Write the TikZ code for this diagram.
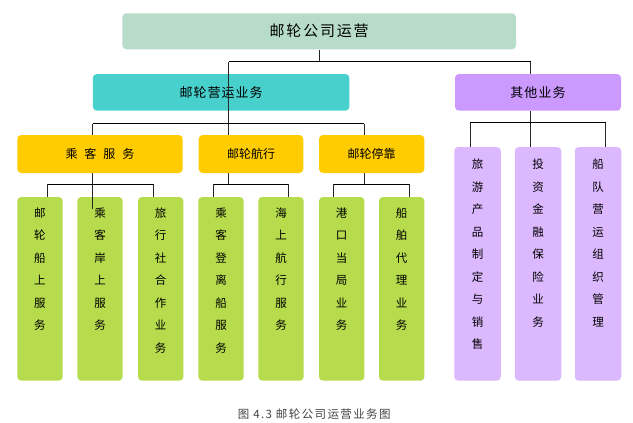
\documentclass[tikz,border=0pt]{standalone}
\usepackage{fontspec}
\newfontfamily\cjk{Noto Sans CJK SC}
\newfontfamily\cjkT[LetterSpace=12]{Noto Sans CJK SC}
\newfontfamily\cjkM[LetterSpace=8]{Noto Sans CJK SC}
\newfontfamily\cjkC[LetterSpace=12]{Noto Sans CJK SC}
\definecolor{topc}{HTML}{B7DCC9}
\definecolor{turq}{HTML}{48D1CC}
\definecolor{yel}{HTML}{FFCC00}
\definecolor{grn}{HTML}{B6DB4C}
\definecolor{pur}{HTML}{CC99FF}
\definecolor{lpur}{HTML}{DCB8FE}
\definecolor{capc}{HTML}{444444}
\tikzset{
  box/.style={rectangle, rounded corners=4pt, inner sep=0pt, minimum height=36pt},
  leafbox/.style={rectangle, rounded corners=4pt, inner sep=0pt, minimum width=45.4pt},
  leaftext/.style={inner sep=0pt, anchor=north, align=center, font=\cjk\fontsize{11.5}{22.5}\selectfont},
  hline/.style={line width=1.4pt, black},
  vline/.style={line width=0.9pt, black!85},
}
\begin{document}
\begin{tikzpicture}[x=1pt,y=-1pt]
\fill[white] (0,0) rectangle (633,423);
\useasboundingbox (0,0) rectangle (633,423);

% boxes
\node[box, fill=topc, minimum width=393.6pt, font=\cjkT\fontsize{15}{18}\selectfont] (top) at (319.2,31.3) {邮轮公司运营};
\node[box, fill=turq, minimum width=256.6pt, minimum height=36.7pt, font=\cjkM\fontsize{13}{16}\selectfont] (yy) at (221.1,92.35) {邮轮营运业务};
\node[box, fill=pur, minimum width=166pt, minimum height=36.7pt, font=\cjkM\fontsize{13}{16}\selectfont] (qt) at (538,92.35) {其他业务};
\node[box, fill=yel, minimum width=165.4pt, minimum height=38pt, font=\cjk\fontsize{12}{14}\selectfont] (ck) at (100,154) {乘\hspace{7pt}客\hspace{7pt}服\hspace{7pt}务};
\node[box, fill=yel, minimum width=104.6pt, minimum height=38pt, font=\cjk\fontsize{12}{14}\selectfont] (hx) at (251,154) {邮轮航行};
\node[box, fill=yel, minimum width=105.3pt, minimum height=38pt, font=\cjk\fontsize{12}{14}\selectfont] (tk) at (371.7,154) {邮轮停靠};

\foreach \n/\cx in {g1/40,g2/100,g3/160.7,g4/221,g5/281,g6/341.7,g7/401.7}
  \node[leafbox, fill=grn, minimum height=183.7pt] (\n) at (\cx,288.85) {};
\foreach \n/\cx in {p1/477.5,p2/538,p3/598}
  \node[leafbox, fill=lpur, minimum width=46.5pt, minimum height=233.7pt] (\n) at (\cx,263.85) {};

% leaf texts
\node[leaftext] (g1t) at ([yshift=-10.5pt]g1.north) {邮\\轮\\船\\上\\服\\务};
\node[leaftext] (g2t) at ([yshift=-10.5pt]g2.north) {乘\\客\\岸\\上\\服\\务};
\node[leaftext] (g3t) at ([yshift=-10.5pt]g3.north) {旅\\行\\社\\合\\作\\业\\务};
\node[leaftext] (g4t) at ([yshift=-10.5pt]g4.north) {乘\\客\\登\\离\\船\\服\\务};
\node[leaftext] (g5t) at ([yshift=-10.5pt]g5.north) {海\\上\\航\\行\\服\\务};
\node[leaftext] (g6t) at ([yshift=-10.5pt]g6.north) {港\\口\\当\\局\\业\\务};
\node[leaftext] (g7t) at ([yshift=-10.5pt]g7.north) {船\\舶\\代\\理\\业\\务};
\node[leaftext] (p1t) at ([yshift=-12.2pt]p1.north) {旅\\游\\产\\品\\制\\定\\与\\销\\售};
\node[leaftext] (p2t) at ([yshift=-12.2pt]p2.north) {投\\资\\金\\融\\保\\险\\业\\务};
\node[leaftext] (p3t) at ([yshift=-12.2pt]p3.north) {船\\队\\营\\运\\组\\织\\管\\理};

% bus coordinates
\coordinate (b0l) at (228.7,61.7);
\coordinate (b0r) at (530.5,61.7);
\coordinate (b1l) at (92.9,123.7);
\coordinate (b1r) at (364.3,123.7);
\coordinate (b2l) at (470,122.7);
\coordinate (b2r) at (605.7,122.7);
\coordinate (c1l) at (47,184.3);
\coordinate (c1r) at (153,184.3);
\coordinate (c2l) at (213,184.3);
\coordinate (c2r) at (288.7,184.3);
\coordinate (c3l) at (333.7,184.3);
\coordinate (c3r) at (409.3,184.3);
\coordinate (stray) at (92.9,209);

% connectors
\draw[vline] (top.south -| 319.2,0) -- (319.2,61.7);
\draw[hline] (b0l) -- (b0r);
\draw[vline] (b0l) -- (b0l |- hx.north);
\draw[vline] (b0r) -- (b0r |- qt.north);
\draw[hline] (b1l) -- (b1r);
\draw[vline] (b1l) -- (b1l |- ck.north);
\draw[vline] (b1r) -- (b1r |- tk.north);
\draw[vline] (qt.south -| b0r) -- (b0r |- b2l);
\draw[hline] (b2l) -- (b2r);
\draw[vline] (b2l) -- (b2l |- p1.north);
\draw[vline] (b0r |- b2l) -- (b0r |- p2.north);
\draw[vline] (b2r) -- (b2r |- p3.north);
% level 3
\draw[vline] (ck.south -| b1l) -- (stray);
\draw[hline] (c1l) -- (c1r);
\draw[vline] (c1l) -- (c1l |- g1.north);
\draw[vline] (c1r) -- (c1r |- g3.north);
\draw[vline] (hx.south -| b0l) -- (b0l |- c2l);
\draw[hline] (c2l) -- (c2r);
\draw[vline] (c2l) -- (c2l |- g4.north);
\draw[vline] (c2r) -- (c2r |- g5.north);
\draw[vline] (tk.south -| b1r) -- (b1r |- c3l);
\draw[hline] (c3l) -- (c3r);
\draw[vline] (c3l) -- (c3l |- g6.north);
\draw[vline] (c3r) -- (c3r |- g7.north);

% caption
\node[inner sep=0pt, text=capc, font=\cjkC\fontsize{11.5}{13}\selectfont] (cap) at (314.2,414) {图 4.3 邮轮公司运营业务图};
\end{tikzpicture}
\end{document}
